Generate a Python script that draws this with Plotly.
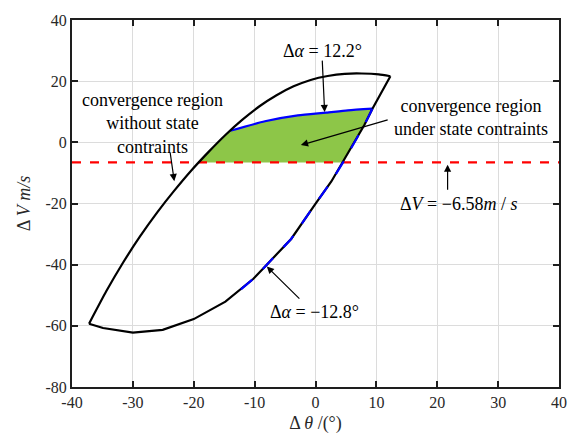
import plotly.graph_objects as go

# ---- data ----
# upper/left branch of region without state constraints (bottom-left corner -> top-right corner)
upper_theta = [-37.2, -34.4, -31.6, -28.8, -26.0, -23.2, -20.4, -17.6, -14.8, -12.0, -9.2, -6.4, -3.6,
               -0.8, 2.0, 4.8, 7.6, 10.4, 12.3]
upper_V = [-59.3, -48.8, -39.3, -30.7, -22.9, -15.8, -9.2, -3.2, 2.4, 7.4, 11.8, 15.4, 18.3,
           20.4, 21.7, 22.4, 22.5, 22.2, 21.6]
# lower/right branch (top-right corner -> bottom-left corner)
lower_theta = [12.3, 9.35, 8.0, 4.6, 2.6, 0.1, -4.0, -8.0, -10.2, -14.8, -20.0, -25.1, -30.0, -34.9, -37.2]
lower_V = [21.6, 11.0, 5.6, -6.3, -12.8, -19.8, -31.6, -40.0, -44.6, -52.1, -57.8, -61.3, -62.2, -60.7, -59.3]

top_theta = [-14.0, -8.3, -2.9, 1.75, 5.3, 9.35]          # Δα = 12.2°
top_V = [3.8, 6.9, 8.8, 9.7, 10.45, 11.0]

right_theta = [9.35, 8.0, 4.6, 2.6, 0.1, -4.0, -8.0, -10.2, -14.0]   # Δα = -12.8°
right_V = [11.0, 5.6, -6.3, -12.8, -19.8, -31.6, -40.0, -44.6, -51.0]

green_theta = [-14.0, -8.3, -2.9, 1.75, 5.3, 9.35, 8.0, 4.5, -19.2, -17.6, -14.0]
green_V = [3.8, 6.9, 8.8, 9.7, 10.45, 11.0, 5.6, -6.58, -6.58, -3.2, 3.8]

dV_limit = -6.58

x_ticks = [-40, -30, -20, -10, 0, 10, 20, 30, 40]
x_ticktext = ["-40", "-30", "-20", "-10", "0", "10", "20", "30", "40"]
y_ticks = [-80, -60, -40, -20, 0, 20, 40]
y_ticktext = ["-80", "-60", "-40", "-20", "0", "20", "40"]

# annotation labels: (text, x, y)
labels = [
    ("Δ<i>α</i> = 12.2°", 1.2, 29.8),
    ("convergence region<br>without state<br>contraints", -26.8, 6.3),
    ("convergence region<br>under state contraints", 25.5, 8.0),
    ("Δ<i>V</i> = −6.58<i>m</i> / <i>s</i>", 23.5, -20.3),
    ("Δ<i>α</i> = −12.8°", -0.15, -55.4),
]
# arrows: (tip_x, tip_y, tail_x, tail_y)
arrows = [
    (1.5, 9.9, 1.1, 27.2),
    (-23.2, -12.7, -23.9, -3.0),
    (-2.4, -0.9, 12.1, 7.5),
    (21.7, -7.3, 21.7, -16.0),
    (-8.0, -40.6, -2.4, -51.6),
]

FONT = "Times New Roman, Liberation Serif, serif"

fig = go.Figure()
fig.add_trace(go.Scatter(x=green_theta, y=green_V, mode="lines", fill="toself",
                         fillcolor="rgb(141,198,72)", line=dict(width=0), hoverinfo="skip"))
fig.add_trace(go.Scatter(x=[-40, 40], y=[dV_limit, dV_limit], mode="lines",
                         line=dict(color="rgb(255,0,0)", width=2.2, dash="dash")))
fig.add_trace(go.Scatter(x=top_theta, y=top_V, mode="lines",
                         line=dict(color="rgb(0,0,255)", width=2.2, shape="spline", smoothing=0.6)))
fig.add_trace(go.Scatter(x=upper_theta, y=upper_V, mode="lines",
                         line=dict(color="black", width=2.2, shape="spline", smoothing=0.4)))
fig.add_trace(go.Scatter(x=lower_theta, y=lower_V, mode="lines",
                         line=dict(color="black", width=2.2)))
fig.add_trace(go.Scatter(x=right_theta, y=right_V, mode="lines",
                         line=dict(color="rgb(0,0,255)", width=2.2, dash="longdash")))

ann_font = dict(family=FONT, size=18, color="black")
for text, lx, ly in labels:
    fig.add_annotation(xref="x", yref="y", x=lx, y=ly, text=text, showarrow=False,
                       font=ann_font, xanchor="center", yanchor="middle")
for tx, ty, sx, sy in arrows:
    fig.add_annotation(xref="x", yref="y", axref="x", ayref="y", x=tx, y=ty, ax=sx, ay=sy,
                       text="", showarrow=True, arrowhead=2, arrowsize=1.2, arrowwidth=1.2,
                       arrowcolor="black")

fig.update_layout(
    width=579, height=442,
    margin=dict(l=72, r=16, t=17, b=54),
    paper_bgcolor="white", plot_bgcolor="white",
    showlegend=False,
    font=dict(family=FONT, size=16, color="rgb(40,40,40)"),
)
axis_common = dict(showline=True, linecolor="rgb(30,30,30)", linewidth=2, mirror="ticks",
                   ticks="inside", ticklen=6, tickwidth=2, tickcolor="rgb(30,30,30)",
                   showgrid=True, gridcolor="rgb(220,220,220)", gridwidth=1, zeroline=False,
                   tickfont=dict(family=FONT, size=16, color="rgb(40,40,40)"))
fig.update_xaxes(range=[-40, 40], tickvals=x_ticks, ticktext=x_ticktext,
                 title=dict(text="Δ <i>θ</i> /(°)", font=dict(family=FONT, size=18), standoff=6),
                 **axis_common)
fig.update_yaxes(range=[-80, 40], tickvals=y_ticks, ticktext=y_ticktext,
                 title=dict(text="Δ <i>V</i> <i>m/s</i>", font=dict(family=FONT, size=18), standoff=10),
                 **axis_common)

fig.write_html("out.html")
